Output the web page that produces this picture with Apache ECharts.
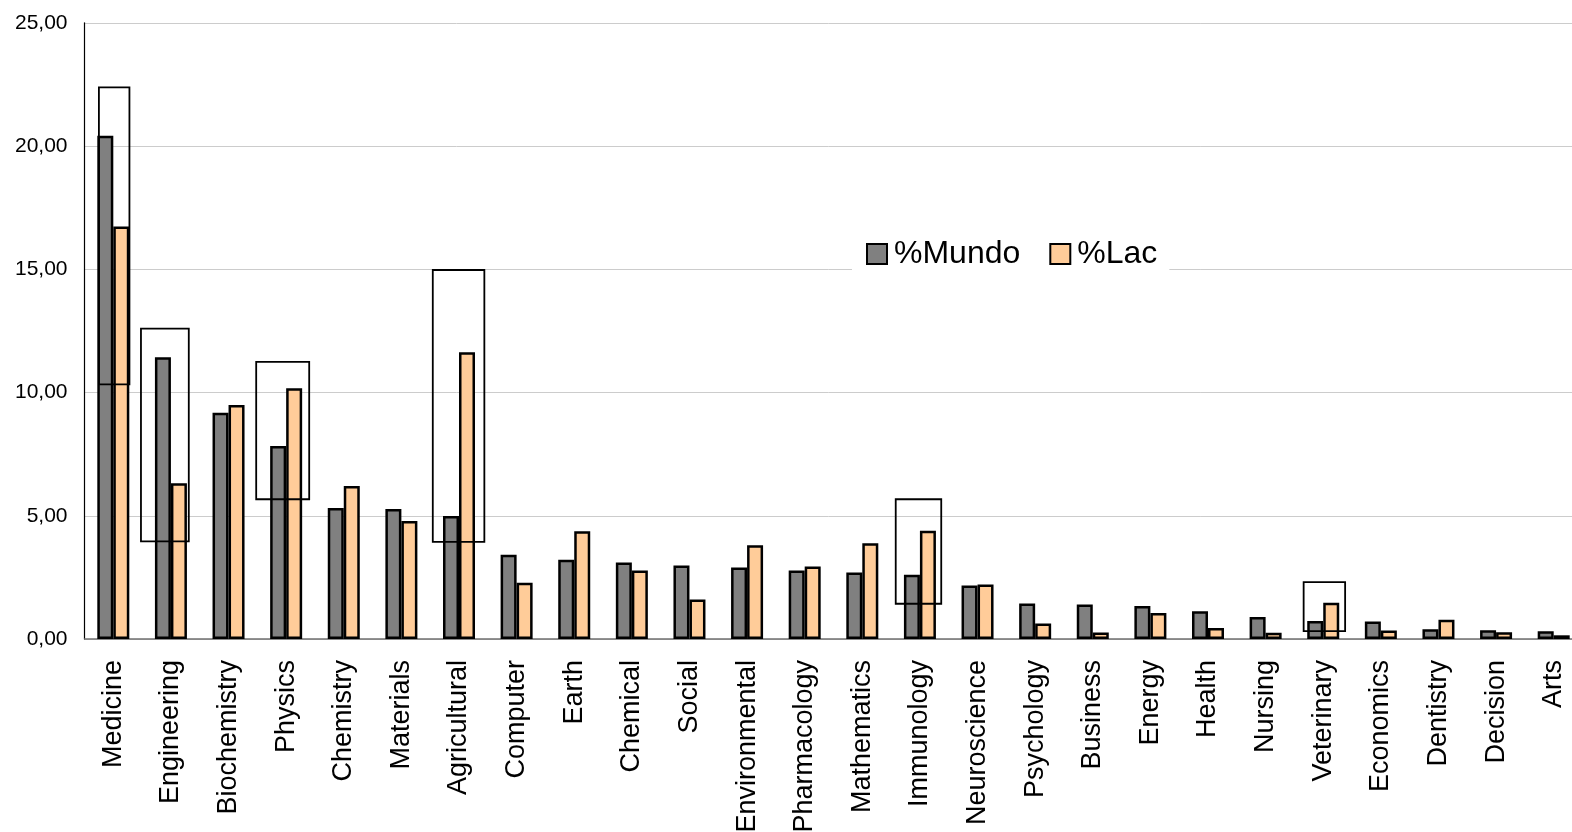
<!DOCTYPE html>
<html>
<head>
<meta charset="utf-8">
<script src="https://cdn.jsdelivr.net/npm/echarts@6/dist/echarts.min.js"></script>
<style>
html,body{margin:0;padding:0;background:#fff;}
#chart{width:1572px;height:832px;}
</style>
</head>
<body>
<div id="chart"></div>
<script>
const categories = ['Medicine','Engineering','Biochemistry','Physics','Chemistry','Materials','Agricultural','Computer','Earth','Chemical','Social','Environmental','Pharmacology','Mathematics','Immunology','Neuroscience','Psychology','Business','Energy','Health','Nursing','Veterinary','Economics','Dentistry','Decision','Arts'];
const mundo = [20.42, 11.43, 9.18, 7.83, 5.31, 5.27, 4.99, 3.42, 3.22, 3.10, 2.98, 2.90, 2.78, 2.70, 2.61, 2.17, 1.44, 1.40, 1.34, 1.13, 0.89, 0.73, 0.71, 0.40, 0.36, 0.31];
const lac = [16.73, 6.32, 9.49, 10.17, 6.21, 4.79, 11.63, 2.28, 4.37, 2.78, 1.60, 3.80, 2.94, 3.88, 4.39, 2.21, 0.63, 0.26, 1.05, 0.45, 0.25, 1.47, 0.34, 0.78, 0.27, 0.15];
const yTicks = [0, 5, 10, 15, 20, 25];

// highlight boxes: category index, lower value, upper value, horizontal span (category units relative to the category centre)
const boxCategory = [0, 1, 3, 6, 14, 21];
const boxLow = [10.33, 3.96, 5.67, 3.94, 1.43, 0.32];
const boxHigh = [22.38, 12.59, 11.24, 14.97, 5.67, 2.31];
const boxFrom = [-0.25, -0.52, -0.52, -0.455, -0.42, -0.34];
const boxTo = [0.28, 0.31, 0.40, 0.44, 0.37, 0.38];

const boxData = boxCategory.map((c, i) => [c, boxLow[i], boxHigh[i], boxFrom[i], boxTo[i]]);

const FONT = 'Liberation Sans, Arial, sans-serif';
const chart = echarts.init(document.getElementById('chart'), null, {renderer: 'canvas'});
chart.setOption({
  animation: false,
  backgroundColor: '#fff',
  textStyle: {fontFamily: FONT},
  grid: {left: 84.5, top: 22.75, width: 1498, height: 616.25, containLabel: false, outerBoundsMode: 'none'},
  legend: {
    data: ['%Mundo', '%Lac'],
    left: 852, top: 233,
    padding: [5, 12, 5, 14],
    backgroundColor: '#fff',
    itemWidth: 20, itemHeight: 20, itemGap: 29,
    icon: 'rect',
    textStyle: {fontSize: 32, color: '#000', fontFamily: FONT, padding: [0, 0, 0, 2]}
  },
  xAxis: {
    type: 'category',
    data: categories,
    axisTick: {show: false},
    axisLine: {lineStyle: {color: '#707070', width: 1.5}},
    axisLabel: {interval: 0, rotate: 90, fontSize: 27, color: '#000', fontFamily: FONT, margin: 21}
  },
  yAxis: {
    type: 'value',
    min: yTicks[0], max: yTicks[yTicks.length - 1], interval: 5,
    axisLine: {show: true, lineStyle: {color: '#000', width: 1.2}},
    axisTick: {show: false},
    splitLine: {lineStyle: {color: '#cccccc', width: 1}},
    axisLabel: {fontSize: 21, color: '#000', fontFamily: FONT, margin: 17,
      formatter: v => v.toFixed(2).replace('.', ',')}
  },
  series: [
    {name: '%Mundo', type: 'bar', data: mundo, barWidth: 16, barGap: '0%',
      itemStyle: {color: '#808080', borderColor: '#000', borderWidth: 2.5}},
    {name: '%Lac', type: 'bar', data: lac, barWidth: 16, barGap: '0%',
      itemStyle: {color: '#FFCC99', borderColor: '#000', borderWidth: 2.5}},
    {name: 'boxes', type: 'custom', data: boxData, z: 5, silent: true,
      encode: {x: 0, y: [1, 2]},
      renderItem: function (params, api) {
        const idx = api.value(0);
        const top = api.coord([idx, api.value(2)]);
        const bot = api.coord([idx, api.value(1)]);
        const w = api.size([1, 0])[0];
        const x0 = top[0] + api.value(3) * w;
        const x1 = top[0] + api.value(4) * w;
        return {type: 'rect',
          shape: {x: x0, y: top[1], width: x1 - x0, height: bot[1] - top[1]},
          style: {fill: null, stroke: '#000', lineWidth: 1.8}};
      }}
  ]
});
</script>
</body>
</html>
